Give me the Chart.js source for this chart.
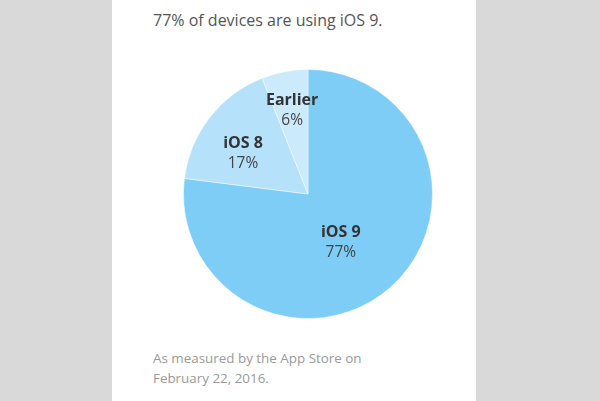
<!DOCTYPE html>
<html>
<head>
<meta charset="utf-8">
<script src="https://cdn.jsdelivr.net/npm/chart.js@4"></script>
<style>
html, body { margin: 0; padding: 0; }
body { width: 600px; height: 401px; background: #d9d9d9; position: relative; overflow: hidden; font-family: "Open Sans", sans-serif; }
#panel { position: absolute; left: 112px; top: 0; width: 364px; height: 401px; background: #fff; }
#title { position: absolute; left: 153px; top: 9px; font-size: 16px; color: #555; white-space: nowrap; }
#note { position: absolute; left: 153px; top: 348px; font-size: 13.4px; line-height: 20px; color: #9a9a9a; }
#chartBox { position: absolute; left: 183px; top: 69px; width: 250px; height: 250px; }
</style>
</head>
<body>
<div id="panel"></div>
<div id="title">77% of devices are using iOS 9.</div>
<div id="chartBox"><canvas id="pie"></canvas></div>
<div id="note">As measured by the App Store on<br>February 22, 2016.</div>
<script>
// data
const versions = ['iOS 9', 'iOS 8', 'Earlier']
const shares = [77, 17, 6]
const sliceColors = ['#7ecdf7', '#b5e1fa', '#cbeafc']

// where each label sits, as fraction of radius, plus a small nudge
const labelRadius = [0.52, 0.63, 0.68]
const labelNudge = [[-10, 0], [-3, 8], [0, 0]]

const sliceLabels = {
    id: 'sliceLabels',
    afterDatasetsDraw(chart) {
        const ctx = chart.ctx
        const arcs = chart.getDatasetMeta(0).data
        arcs.forEach((arc, i) => {
            const mid = (arc.startAngle + arc.endAngle) / 2
            const r = arc.outerRadius * labelRadius[i]
            const x = arc.x + Math.cos(mid) * r + labelNudge[i][0]
            const y = arc.y + Math.sin(mid) * r + labelNudge[i][1]
            ctx.save()
            ctx.textAlign = 'center'
            ctx.textBaseline = 'middle'
            ctx.fillStyle = '#333'
            ctx.font = 'bold 16px "Open Sans", sans-serif'
            ctx.fillText(versions[i], x, y - 10)
            ctx.fillStyle = '#444'
            ctx.font = '15.5px "Open Sans", sans-serif'
            ctx.fillText(shares[i] + '%', x, y + 10)
            ctx.restore()
        })
    }
}

new Chart(document.getElementById('pie'), {
    type: 'pie',
    data: {
        labels: versions,
        datasets: [{
            data: shares,
            backgroundColor: sliceColors,
            borderColor: 'rgba(255,255,255,0.45)',
            borderWidth: 1
        }]
    },
    options: {
        responsive: true,
        maintainAspectRatio: false,
        animation: false,
        layout: { padding: 0 },
        plugins: {
            legend: { display: false },
            tooltip: { enabled: false }
        }
    },
    plugins: [sliceLabels]
})
</script>
</body>
</html>
